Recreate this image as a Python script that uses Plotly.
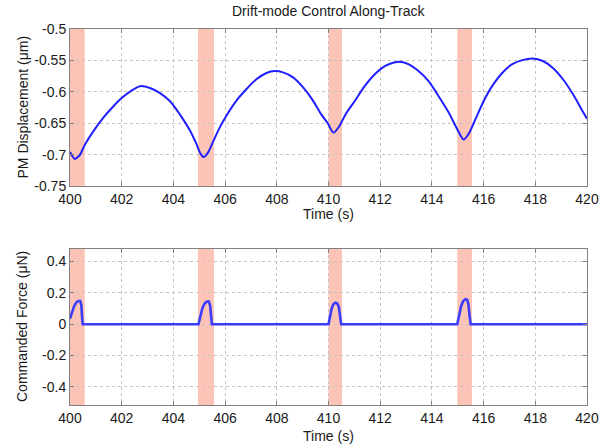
import plotly.graph_objects as go

# Proof-mass displacement along track (s, µm)
disp_time = [400.00, 400.10, 400.19, 400.30, 400.39, 400.58, 400.90, 401.29, 401.68, 402.00,
             402.38, 402.71, 403.09, 403.48, 403.87, 404.25, 404.63, 404.89, 405.03, 405.17,
             405.35, 405.54, 405.79, 406.05, 406.44, 406.82, 407.21, 407.60, 407.92, 408.24,
             408.63, 409.02, 409.40, 409.72, 409.97, 410.19, 410.40, 410.66, 411.01, 411.40,
             411.79, 412.18, 412.57, 412.77, 413.09, 413.48, 413.87, 414.26, 414.65, 414.96,
             415.23, 415.42, 415.68, 416.00, 416.33, 416.72, 417.11, 417.50, 417.90, 418.29,
             418.68, 419.07, 419.46, 419.79, 420.00]
disp_value = [-0.696, -0.703, -0.707, -0.704, -0.700, -0.684, -0.663, -0.641, -0.623, -0.610,
              -0.598, -0.591, -0.594, -0.602, -0.615, -0.636, -0.661, -0.683, -0.697, -0.704,
              -0.696, -0.679, -0.657, -0.638, -0.614, -0.596, -0.580, -0.570, -0.567, -0.569,
              -0.577, -0.593, -0.614, -0.636, -0.650, -0.665, -0.656, -0.636, -0.615, -0.591,
              -0.572, -0.559, -0.553, -0.552, -0.556, -0.567, -0.583, -0.607, -0.633, -0.658,
              -0.676, -0.667, -0.644, -0.615, -0.591, -0.570, -0.556, -0.5495, -0.547, -0.551,
              -0.562, -0.580, -0.604, -0.628, -0.643]

# Commanded force (s, µN)
force_time = [400.00, 400.08, 400.16, 400.24, 400.32, 400.40, 400.44, 400.47, 400.49,
              404.97, 405.04, 405.12, 405.20, 405.28, 405.37, 405.42, 405.46, 405.49,
              410.00, 410.06, 410.13, 410.20, 410.27, 410.34, 410.40, 410.45, 410.49,
              414.98, 415.05, 415.13, 415.21, 415.30, 415.36, 415.41, 415.46, 415.50,
              420.00]
force_value = [0.035, 0.080, 0.115, 0.138, 0.148, 0.148, 0.120, 0.040, 0.0,
               0.0, 0.050, 0.100, 0.130, 0.143, 0.145, 0.120, 0.050, 0.0,
               0.0, 0.060, 0.105, 0.130, 0.137, 0.132, 0.110, 0.050, 0.0,
               0.0, 0.060, 0.115, 0.148, 0.160, 0.157, 0.130, 0.050, 0.0,
               0.0]

# Control-active windows (s)
band_start = [400.0, 404.95, 410.0, 414.98]
band_end = [400.57, 405.57, 410.52, 415.55]

x_ticks = list(range(400, 421, 2))
top_ticks = [-0.75, -0.7, -0.65, -0.6, -0.55, -0.5]
top_tick_text = ["-0.75", "-0.7", "-0.65", "-0.6", "-0.55", "-0.5"]
bot_ticks = [-0.4, -0.2, 0, 0.2, 0.4]
bot_tick_text = ["-0.4", "-0.2", "0", "0.2", "0.4"]

W, H = 609, 445
FONT = "Liberation Sans, Arial, sans-serif"
TXT = "#1a1a1a"

x_dom = [70 / W, 587 / W]
top_dom = [1 - 186 / H, 1 - 29 / H]
bot_dom = [1 - 405 / H, 1 - 249 / H]

fig = go.Figure()
fig.add_trace(go.Scatter(x=disp_time, y=disp_value, mode="lines",
                         line=dict(color="#1f1fff", width=2, shape="spline", smoothing=0.8),
                         xaxis="x", yaxis="y", hoverinfo="skip"))
fig.add_trace(go.Scatter(x=force_time, y=force_value, mode="lines",
                         line=dict(color="#3c3cff", width=2.6),
                         xaxis="x2", yaxis="y2", hoverinfo="skip"))

shapes = []
for s, e in zip(band_start, band_end):
    for xr, yr in (("x", "y domain"), ("x2", "y2 domain")):
        shapes.append(dict(type="rect", xref=xr, yref=yr, x0=s, x1=e, y0=0, y1=1,
                           fillcolor="#fcc4b6", line=dict(width=0), layer="below"))

axis_common = dict(showline=True, linecolor="#808080", linewidth=1, mirror="ticks",
                   ticks="inside", ticklen=4, tickcolor="#808080", automargin=False,
                   showgrid=True, gridcolor="#c4c4c4", griddash="dot", gridwidth=1,
                   zeroline=False, tickfont=dict(family=FONT, size=14, color=TXT))

fig.update_layout(
    width=W, height=H,
    margin=dict(l=0, r=0, t=0, b=0),
    paper_bgcolor="white", plot_bgcolor="white",
    showlegend=False,
    shapes=shapes,
    xaxis=dict(domain=x_dom, anchor="y", range=[400, 420], tickvals=x_ticks, **axis_common),
    yaxis=dict(domain=top_dom, anchor="x", range=[-0.75, -0.5], tickvals=top_ticks,
               ticktext=top_tick_text, **axis_common),
    xaxis2=dict(domain=x_dom, anchor="y2", range=[400, 420], tickvals=x_ticks, **axis_common),
    yaxis2=dict(domain=bot_dom, anchor="x2", range=[-0.516, 0.48], tickvals=bot_ticks,
                ticktext=bot_tick_text, **axis_common),
    annotations=[
        dict(text="Drift-mode Control Along-Track", x=(x_dom[0] + x_dom[1]) / 2, y=1 - 11 / H,
             xref="paper", yref="paper", showarrow=False, xanchor="center", yanchor="middle",
             font=dict(family=FONT, size=14, color=TXT)),
        dict(text="Time (s)", x=(x_dom[0] + x_dom[1]) / 2, y=1 - 214 / H,
             xref="paper", yref="paper", showarrow=False, xanchor="center", yanchor="middle",
             font=dict(family=FONT, size=14, color=TXT)),
        dict(text="Time (s)", x=(x_dom[0] + x_dom[1]) / 2, y=1 - 436 / H,
             xref="paper", yref="paper", showarrow=False, xanchor="center", yanchor="middle",
             font=dict(family=FONT, size=14, color=TXT)),
        dict(text="PM Displacement (μm)", x=22 / W, y=(top_dom[0] + top_dom[1]) / 2,
             xref="paper", yref="paper", showarrow=False, textangle=-90,
             xanchor="center", yanchor="middle", font=dict(family=FONT, size=14, color=TXT)),
        dict(text="Commanded Force (μN)", x=22 / W, y=(bot_dom[0] + bot_dom[1]) / 2,
             xref="paper", yref="paper", showarrow=False, textangle=-90,
             xanchor="center", yanchor="middle", font=dict(family=FONT, size=14, color=TXT)),
    ],
)

fig.write_html("out.html")
